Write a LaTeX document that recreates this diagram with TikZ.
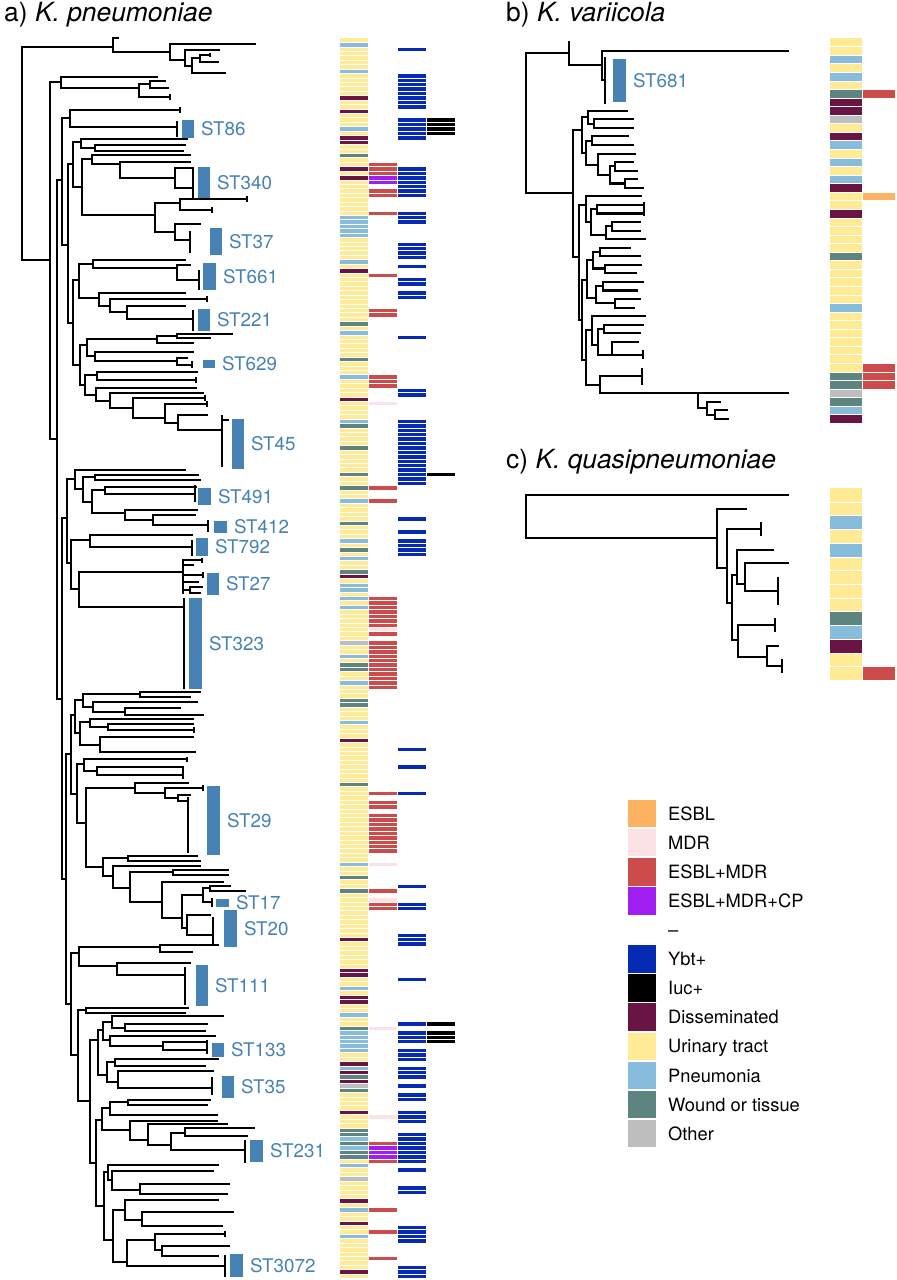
\documentclass[tikz,border=0pt]{standalone}
\usepackage{fontspec}
\setmainfont{TeX Gyre Heros}
\definecolor{cESBL}{RGB}{253,178,98}
\definecolor{cMDR}{RGB}{252,226,228}
\definecolor{cEM}{RGB}{204,76,76}
\definecolor{cCP}{RGB}{160,30,240}
\definecolor{cYbt}{RGB}{6,42,178}
\definecolor{cDis}{RGB}{106,20,68}
\definecolor{cUT}{RGB}{255,234,150}
\definecolor{cPn}{RGB}{135,188,220}
\definecolor{cWd}{RGB}{94,132,128}
\definecolor{cOt}{RGB}{190,190,190}
\definecolor{cST}{RGB}{70,130,180}
\tikzset{
  tr/.style={line width=2.1pt, line cap=rect},
  tk/.style={line width=2.6pt, line cap=butt},
  sep/.style={white, line width=0.5pt},
  stlab/.style={anchor=base west, inner sep=0pt, text=cST, font=\fontsize{18.8}{21}\selectfont},
  leg/.style={anchor=base west, inner sep=0pt, font=\fontsize{18.3}{20}\selectfont},
  ttl/.style={anchor=base west, inner sep=0pt, font=\fontsize{26.4}{30}\selectfont}
}
\newcommand\Br[5]{\draw[tr] (#1,#3) -- (#2,#3) (#2,#4) -- (#2,#5);}
\newcommand\Tp[3]{\draw[tr] (#1,#3) -- (#2,#3);}
\newcommand\Vl[3]{\draw[tr] (#1,#2) -- (#1,#3);}
\newcommand\Kc[3]{\draw[tk] (#1,#2) -- (#1,#3);}
\newcommand\stripA[3]{%
  \foreach \a/\b in {#3}{%
    \pgfmathtruncatemacro\ka{floor((\a-38)/4.43)}%
    \pgfmathtruncatemacro\kb{floor((\b-38)/4.43)+1}%
    \fill[#1] (#2,{38+\ka*4.43}) rectangle ({#2+28.5},{38+\kb*4.43});
  }}
\newcommand\rowB[3]{\foreach \k in {#3}{\fill[#1] (#2,{38+\k*8.56}) rectangle ({#2+32},{38+(\k+1)*8.56});}}
\newcommand\rowC[3]{\foreach \k in {#3}{\fill[#1] (#2,{488.3+\k*13.71}) rectangle ({#2+32},{488.3+(\k+1)*13.71});}}
\newcommand\stl[6]{\fill[cST] (#1,#3) rectangle (#2,#4);
  \node[stlab] (#6) at ({#2+7},{(#3+#4)/2+6.7}) {#5};}
\newcommand\legsq[4]{\fill[#1] (628,{813.5+29.1*#2-13.8}) rectangle (656,{813.5+29.1*#2+13.8});
  \node[leg] (#4) at (668,{813.5+29.1*#2+6.6}) {#3};}
\begin{document}
\begin{tikzpicture}[x=1pt,y=-1pt]
\fill[white] (0,0) rectangle (897,1280);
\useasboundingbox (0,0) rectangle (897,1280);

% ---------- titles
\node[ttl] (ta) at (4,21) {a) \textit{K. pneumoniae}};
\node[ttl] (tb) at (506,21) {b) \textit{K. variicola}};
\node[ttl] (tc) at (506,468) {c) \textit{K. quasipneumoniae}};

% ---------- panel a strips
\fill[cUT] (339.5,38) rectangle (368,{38+280*4.43});
\stripA{cPn}{339.5}{44/44,72/72,128/128,219/233,260/260,333/333,375/375,422/422,503/503,540/540,559/559,587/591,600/600,609/609,655/655,683/683,724/724,862/862,987/987,1013/1013,1033/1049,1068/1068,1137/1137,1147/1147,1164/1164,1211/1211,1238/1238}
\stripA{cDis}{339.5}{100/100,109/109,137/137,141/141,168/168,178/178,269/269,398/398,577/577,738/738,940/940,971/976,997/1002,1063/1063,1073/1073,1082/1082,1114/1114,1202/1202,1224/1224,1270/1270}
\stripA{cWd}{339.5}{155/155,325/325,357/357,426/426,449/449,476/476,489/489,522/522,549/549,572/572,664/669,701/706,784/784,876/876,889/889,1027/1027,1077/1077,1091/1091,1128/1133,1143/1143,1152/1157}
\stripA{cOt}{339.5}{641/641,1087/1087,1178/1178}
\stripA{cEM}{368.5}{164/174,189/196,214/214,273/273,311/316,379/385,489/489,500/500,599/624,632/632,641/688,793/793,802/807,815/853,889/889,903/908,1142/1142,1160/1160,1211/1211,1233/1233,1257/1257}
\stripA{cMDR}{368.5}{403/403,628/628,866/866,898/898,1027/1027,1118/1118}
\stripA{cCP}{368.5}{179/184,1146/1156}
\stripA{cYbt}{397.5}{49/49,76/87,94/105,122/137,168/196,214/220,245/257,265/265,278/283,292/297,338/338,388/394,421/477,485/485,517/517,531/531,540/555,747/747,766/766,793/793,885/885,903/908,934/945,981/981,1023/1023,1031/1042,1049/1060,1068/1078,1087/1087,1096/1101,1114/1120,1136/1161,1169/1169,1188/1193,1229/1239,1269/1276}
\stripA{black}{426.5}{122/133,476/476,1023/1023,1031/1042}
\foreach \k in {1,...,279} \draw[sep] (339,{38+\k*4.43}) -- (456,{38+\k*4.43});

% ---------- panel b strips
\fill[cUT] (830,38) rectangle (862,{38+45*8.56});
\rowB{cPn}{830}{2,4,12,14,16,31,43}
\rowB{cWd}{830}{6,25,39,40,42}
\rowB{cDis}{830}{7,8,11,17,20,44}
\rowB{cOt}{830}{9,41}
\rowB{cEM}{862.5}{6,38,39,40}
\rowB{cESBL}{862.5}{18}
\foreach \k in {1,...,44} \draw[sep] (829,{38+\k*8.56}) -- (896,{38+\k*8.56});

% ---------- panel c strips
\fill[cUT] (830,488.3) rectangle (862,{488.3+14*13.71});
\rowC{cPn}{830}{2,4,10}
\rowC{cWd}{830}{9}
\rowC{cDis}{830}{11}
\rowC{cEM}{862.5}{13}
\foreach \k in {1,...,13} \draw[sep] (829,{488.3+\k*13.71}) -- (896,{488.3+\k*13.71});

% ---------- panel a tree
\Vl{22}{47}{260}
\Br{22}{113}{47}{38}{52}
\Tp{113}{118}{38}
\Br{113}{170}{52}{44}{60}
\Tp{170}{255}{44}
\Br{170}{185}{60}{50}{66}
\Tp{185}{219}{50}
\Br{185}{192}{66}{58}{73}
\Br{192}{200}{58}{55}{62}
\Tp{200}{210}{55} \Kc{210}{53}{57}
\Tp{200}{218}{62}
\Tp{192}{225}{73}

\Br{22}{50}{260}{82}{439}
\Br{50}{61}{82}{77}{88}
\Tp{61}{157}{77}
\Br{61}{139}{88}{84}{97}
\Br{139}{150}{84}{81}{88}
\Tp{150}{165}{81}
\Tp{150}{168}{88}
\Tp{139}{170}{97} \Kc{170}{94}{100}

\Br{50}{57}{439}{180}{699}
\Br{57}{62}{180}{118}{245}
\Br{62}{70}{118}{110}{127}
\Tp{70}{180}{110} \Kc{180}{107}{113}
\Tp{70}{177}{127} \Kc{177}{121}{137}
\Br{62}{68}{245}{164}{323}
\Br{68}{73}{164}{142}{187}
\Br{73}{81}{142}{139}{148}
\Tp{81}{187}{139}
\Br{81}{95}{148}{145}{151}
\Tp{95}{185}{145}
\Tp{95}{183}{151}
\Br{73}{82}{187}{159}{215}
\Br{82}{92}{159}{155}{164}
\Tp{92}{190}{155}
\Br{92}{120}{164}{162}{178}
\Tp{120}{190}{162}
\Br{120}{175}{178}{168}{188}
\Tp{175}{193}{168}
\Tp{175}{193}{188}
\Kc{193}{167}{198}
\Br{82}{155}{215}{203}{232}
\Br{155}{180}{203}{199}{210}
\Tp{180}{247}{199} \Kc{247}{196}{202}
\Tp{180}{212}{210} \Kc{212}{207}{213}
\Br{155}{175}{232}{224}{240}
\Tp{175}{200}{224}
\Tp{175}{190}{240}
\Kc{190}{231}{253}

\Br{68}{73}{323}{280}{365}
\Br{73}{79}{280}{264}{298}
\Br{79}{93}{264}{260}{268}
\Tp{93}{185}{260}
\Br{93}{177}{268}{265}{280}
\Tp{177}{190}{265}
\Tp{177}{199}{280}
\Kc{199}{270}{290}
\Br{79}{99}{298}{293}{306}
\Tp{99}{185}{293}
\Br{99}{110}{306}{299}{312}
\Tp{110}{207}{299} \Kc{207}{296}{302}
\Br{110}{127}{312}{306}{319}
\Tp{127}{185}{306}
\Tp{127}{193}{319}
\Kc{193}{310}{331}

\Br{73}{80}{365}{345}{385}
\Br{80}{87}{345}{339}{356}
\Br{87}{157}{339}{336}{343}
\Br{157}{177}{336}{334}{338}
\Tp{177}{232}{334}
\Tp{177}{210}{338}
\Tp{157}{193}{343}
\Br{87}{95}{356}{352}{361}
\Tp{95}{193}{352}
\Br{95}{177}{361}{358}{365}
\Tp{177}{187}{358}
\Tp{177}{192}{365} \Kc{192}{361}{368}
\Br{80}{85}{385}{375}{395}
\Br{85}{97}{375}{372}{380}
\Tp{97}{197}{372}
\Tp{97}{196}{380} \Kc{196}{377}{383}
\Br{85}{96}{395}{388}{401}
\Tp{96}{196}{388}
\Br{96}{110}{401}{393}{408}
\Tp{110}{203}{393}
\Br{110}{133}{408}{398}{418}
\Tp{133}{205}{398} \Kc{205}{395}{401}
\Br{133}{165}{418}{404}{423}
\Tp{165}{207}{404} \Kc{207}{401}{407}
\Br{165}{178}{423}{415}{430}
\Tp{178}{207}{415}
\Tp{178}{222}{430}
\Kc{222}{415}{467}
\Tp{222}{228}{420}

\Br{57}{62}{699}{518}{879}
\Br{62}{67}{518}{479}{563}
\Br{67}{75}{479}{470}{489}
\Tp{75}{185}{470}
\Br{75}{83}{489}{477}{502}
\Br{83}{95}{477}{475}{480}
\Tp{95}{198}{475}
\Tp{95}{200}{480}
\Br{83}{92}{502}{490}{513}
\Br{92}{105}{490}{487}{494}
\Tp{105}{196}{487}
\Tp{105}{195}{494}
\Kc{195}{485}{502}
\Br{92}{125}{513}{510}{520}
\Tp{125}{197}{510}
\Br{125}{153}{520}{515}{525}
\Tp{153}{195}{515}
\Tp{153}{208}{525} \Kc{208}{520}{532}
\Br{67}{71}{563}{540}{589}
\Br{71}{90}{540}{535}{547}
\Tp{90}{192}{535}
\Tp{90}{192}{547}
\Kc{192}{540}{556}
\Br{71}{79}{589}{572}{607}
\Br{79}{183}{572}{560}{593}
\Tp{183}{202}{560} \Kc{202}{558}{563}
\Tp{183}{193}{565}
\Tp{183}{203}{575} \Kc{203}{572}{578}
\Tp{183}{198}{582}
\Br{183}{190}{590}{587}{593}
\Tp{190}{202}{587}
\Tp{190}{200}{593}
\Tp{79}{184}{607}
\draw[line width=2.8pt] (184,598) -- (184,689);

\Br{62}{66}{879}{754}{1004}
\Br{66}{71}{754}{715}{794}
\Br{71}{75}{715}{700}{733}
\Br{75}{83}{700}{694}{707}
\Br{83}{140}{694}{692}{697}
\Tp{140}{200}{692}
\Tp{140}{190}{697}
\Br{83}{93}{707}{702}{712}
\Tp{93}{197}{702}
\Br{93}{125}{712}{708}{715}
\Tp{125}{180}{708}
\Tp{125}{203}{715}
\Br{75}{80}{733}{722}{745}
\Br{80}{90}{722}{719}{727}
\Tp{90}{193}{719}
\Br{90}{108}{727}{724}{730}
\Tp{108}{193}{724}
\Tp{108}{194}{730} \Kc{194}{727}{733}
\Br{80}{100}{745}{737}{752}
\Tp{100}{193}{737}
\Tp{100}{195}{752}
\Br{71}{77}{794}{764}{823}
\Br{77}{84}{764}{759}{771}
\Tp{84}{187}{759} \Kc{187}{757}{762}
\Br{84}{97}{771}{767}{775}
\Tp{97}{183}{767}
\Tp{97}{183}{775}
\Kc{183}{766}{779}
\Br{77}{86}{823}{788}{867}
\Br{86}{135}{788}{783}{793}
\Tp{135}{188}{783}
\Br{135}{165}{793}{788}{798}
\Tp{165}{203}{788} \Kc{203}{785}{791}
\Br{165}{178}{798}{795}{801}
\Tp{178}{190}{795}
\Tp{178}{188}{801}
\Kc{188}{797}{853}
\Br{86}{103}{867}{858}{876}
\Br{103}{128}{858}{856}{861}
\Tp{128}{197}{856}
\Tp{128}{200}{861}
\Br{103}{113}{876}{866}{888}
\Tp{113}{200}{866}
\Br{113}{130}{888}{872}{902}
\Br{130}{173}{872}{870}{875}
\Tp{173}{228}{870}
\Tp{173}{228}{875}
\Br{130}{162}{902}{882}{918}
\Tp{162}{223}{882}
\Br{162}{182}{918}{895}{928}
\Br{182}{203}{895}{888}{902}
\Br{203}{210}{888}{886}{891}
\Tp{210}{230}{886}
\Tp{210}{245}{891}
\Tp{203}{212}{902} \Kc{212}{898}{907}
\Br{182}{187}{928}{915}{935}
\Tp{187}{210}{915}
\Tp{187}{213}{935}
\Kc{213}{917}{946}

\Br{66}{71}{1004}{953}{1055}
\Br{71}{79}{953}{947}{966}
\Br{79}{160}{947}{945}{952}
\Tp{160}{218}{945}
\Tp{160}{192}{952}
\Br{79}{117}{966}{963}{975}
\Tp{117}{190}{963}
\Tp{117}{185}{975}
\Kc{185}{967}{1005}
\Br{71}{78}{1055}{1010}{1101}
\Br{78}{86}{1010}{1008}{1013}
\Tp{86}{188}{1008}
\Tp{86}{185}{1013}
\Br{78}{90}{1101}{1040}{1163}
\Br{90}{98}{1040}{1030}{1075}
\Br{98}{103}{1030}{1022}{1040}
\Br{103}{112}{1022}{1016}{1028}
\Tp{112}{223}{1016}
\Br{112}{125}{1028}{1024}{1031}
\Tp{125}{207}{1024}
\Tp{125}{205}{1031}
\Br{103}{110}{1040}{1036}{1046}
\Tp{110}{215}{1036}
\Br{110}{163}{1046}{1042}{1050}
\Tp{163}{207}{1042}
\Tp{163}{207}{1050}
\Kc{207}{1040}{1054}
\Br{98}{107}{1075}{1062}{1082}
\Br{107}{115}{1062}{1059}{1066}
\Tp{115}{218}{1059}
\Tp{115}{205}{1066}
\Br{107}{118}{1082}{1071}{1088}
\Tp{118}{213}{1071}
\Tp{118}{212}{1088}
\Kc{212}{1077}{1095}
\Br{90}{96}{1163}{1120}{1206}
\Br{96}{102}{1120}{1108}{1130}
\Br{102}{110}{1108}{1102}{1115}
\Br{110}{128}{1102}{1100}{1105}
\Tp{128}{210}{1100}
\Tp{128}{207}{1105}
\Tp{110}{217}{1115}
\Br{102}{130}{1130}{1121}{1140}
\Tp{130}{217}{1121}
\Br{130}{148}{1140}{1124}{1145}
\Tp{148}{227}{1124}
\Br{148}{171}{1145}{1133}{1150}
\Br{171}{185}{1133}{1128}{1136}
\Tp{185}{254}{1128}
\Tp{185}{247}{1136}
\Tp{171}{245}{1150}
\Kc{245}{1140}{1163}
\Br{96}{104}{1206}{1172}{1240}
\Br{104}{108}{1172}{1165}{1180}
\Tp{108}{218}{1165}
\Br{108}{112}{1180}{1171}{1190}
\Tp{112}{213}{1171}
\Br{112}{140}{1190}{1184}{1194}
\Tp{140}{229}{1184}
\Tp{140}{227}{1194}
\Br{104}{113}{1240}{1210}{1262}
\Br{113}{125}{1210}{1200}{1220}
\Tp{125}{218}{1200}
\Br{125}{142}{1220}{1212}{1226}
\Tp{142}{233}{1212}
\Tp{142}{222}{1226}
\Br{113}{127}{1262}{1240}{1266}
\Br{127}{155}{1240}{1234}{1250}
\Tp{155}{225}{1234} \Kc{225}{1231}{1237}
\Br{155}{162}{1250}{1246}{1256}
\Tp{162}{229}{1246}
\Tp{162}{218}{1256}
\Tp{127}{224}{1266}
\Kc{225}{1255}{1277}

% ---------- ST bars and labels (panel a)
\stl{182}{194}{120}{138}{ST86}{st86}
\stl{198}{210}{167}{198}{ST340}{st340}
\stl{210}{222}{228}{255}{ST37}{st37}
\stl{203}{216}{263}{290}{ST661}{st661}
\stl{198}{210}{309}{331}{ST221}{st221}
\stl{203}{215}{360}{368}{ST629}{st629}
\stl{232}{244}{419}{469}{ST45}{st45}
\stl{198}{211}{488}{505}{ST491}{st491}
\stl{214}{227}{521}{533}{ST412}{st412}
\stl{196}{208}{538}{556}{ST792}{st792}
\stl{207}{219}{573}{595}{ST27}{st27}
\stl{189}{202}{598}{689}{ST323}{st323}
\stl{207}{220}{786}{855}{ST29}{st29}
\stl{216}{229}{899}{907}{ST17}{st17}
\stl{224}{237}{910}{947}{ST20}{st20}
\stl{196}{208}{965}{1006}{ST111}{st111}
\stl{212}{224}{1043}{1057}{ST133}{st133}
\stl{222}{234}{1076}{1098}{ST35}{st35}
\stl{250}{263}{1140}{1162}{ST231}{st231}
\stl{230}{243}{1254}{1277}{ST3072}{st3072}

% ---------- panel b tree
\Vl{526}{52.7}{193.3}
\Br{526}{569}{52.7}{42.3}{65}
\Br{569}{602}{65}{50.8}{80}
\Tp{602}{788}{50.8}
\Tp{602}{605}{80}
\draw[line width=2.6pt] (605,57) -- (605,104);
\stl{613}{626}{59}{102}{ST681}{st681}
\Br{526}{573}{193.3}{130}{257}
\Br{573}{582}{130}{117}{152.9}
\Br{582}{588}{117}{110.8}{123.6}
\Tp{588}{627}{110.8}
\Br{588}{594}{123.6}{119.3}{127.9}
\Tp{594}{633}{119.3}
\Tp{594}{633}{127.9}
\Br{582}{586}{152.9}{140.7}{165}
\Br{586}{592}{140.7}{136.4}{145}
\Tp{592}{628}{136.4}
\Tp{592}{633}{145}
\Br{586}{598}{165}{153.6}{175}
\Tp{598}{635}{153.6}
\Br{598}{610}{175}{166.4}{183.5}
\Br{610}{615}{166.4}{162.1}{170.7}
\Tp{615}{633}{162.1}
\Tp{615}{637}{170.7}
\Br{610}{625}{183.5}{179.2}{187.8}
\Tp{625}{637}{179.2}
\Tp{625}{643}{187.8}
\Br{573}{579}{257}{205}{320}
\Br{579}{586}{205}{196.4}{222}
\Tp{586}{641}{196.4}
\Br{586}{591}{222}{209.2}{235}
\Br{591}{597}{209.2}{204.9}{213.5}
\Tp{597}{644}{204.9}
\Tp{597}{644}{213.5}
\Kc{644}{202}{216}
\Br{591}{606}{235}{226.3}{239.2}
\Br{606}{612}{226.3}{222}{230.6}
\Tp{612}{640}{222}
\Tp{612}{640}{230.6}
\Tp{606}{645}{239.2}
\Br{579}{582}{320}{280}{360}
\Br{582}{587}{280}{260}{298}
\Br{587}{593}{260}{252}{268.5}
\Br{593}{600}{252}{247.7}{256.3}
\Tp{600}{630}{247.7}
\Tp{600}{640}{256.3}
\Br{593}{605}{268.5}{264.8}{273.4}
\Tp{605}{641}{264.8}
\Tp{605}{636}{273.4}
\Br{587}{596}{298}{286.2}{303.3}
\Br{596}{603}{286.2}{282}{290.5}
\Tp{603}{643}{282}
\Tp{603}{637}{290.5}
\Br{596}{615}{303.3}{299.1}{307.6}
\Tp{615}{640}{299.1}
\Tp{615}{634}{307.6}
\Br{582}{586}{360}{330}{384.6}
\Br{586}{592}{330}{316.2}{345}
\Tp{592}{645}{316.2}
\Br{592}{598}{345}{329}{354.7}
\Br{598}{604}{329}{324.8}{333.3}
\Tp{604}{643}{324.8}
\Tp{604}{640}{333.3}
\Br{598}{612}{354.7}{341.9}{354.7}
\Tp{612}{638}{341.9}
\Tp{612}{643}{354.7}
\Kc{643}{350.4}{359}
\Br{586}{600}{384.6}{376}{393.2}
\Tp{600}{642}{376}
\Kc{642}{367.6}{384.7}
\Tp{600}{788}{393.2}
\Vl{698}{393.2}{408}
\Br{698}{707}{408}{401.8}{414.6}
\Tp{707}{720}{401.8}
\Br{707}{715}{414.6}{410.3}{418.9}
\Tp{715}{727}{410.3}
\Tp{715}{728}{418.9}

% ---------- panel c tree
\Vl{526}{494.9}{538}
\Tp{526}{788}{494.9}
\Br{526}{717}{538}{508.6}{568}
\Tp{717}{746}{508.6}
\Br{717}{727}{568}{529}{603}
\Tp{727}{761}{529} \Kc{761}{522.3}{536}
\Br{727}{732}{603}{575}{640}
\Br{732}{737}{575}{549.7}{584}
\Tp{737}{773}{549.7}
\Br{737}{745}{584}{563.4}{590.8}
\Tp{745}{788}{563.4}
\Tp{745}{778}{590.8} \Kc{778}{577.1}{604.5}
\Br{732}{738}{640}{625}{657}
\Tp{738}{775}{625} \Kc{775}{618.2}{631.9}
\Br{738}{767}{657}{645.6}{666}
\Tp{767}{778}{645.6}
\Tp{767}{782}{666} \Kc{782}{659.3}{673}

% ---------- legend
\legsq{cESBL}{0}{ESBL}{lg0}
\legsq{cMDR}{1}{MDR}{lg1}
\legsq{cEM}{2}{ESBL+MDR}{lg2}
\legsq{cCP}{3}{ESBL+MDR+CP}{lg3}
\node[leg] (lg4) at (668,{813.5+29.1*4+6.6}) {\textendash};
\legsq{cYbt}{5}{Ybt+}{lg5}
\legsq{black}{6}{Iuc+}{lg6}
\legsq{cDis}{7}{Disseminated}{lg7}
\legsq{cUT}{8}{Urinary tract}{lg8}
\legsq{cPn}{9}{Pneumonia}{lg9}
\legsq{cWd}{10}{Wound or tissue}{lg10}
\legsq{cOt}{11}{Other}{lg11}
\end{tikzpicture}
\end{document}
